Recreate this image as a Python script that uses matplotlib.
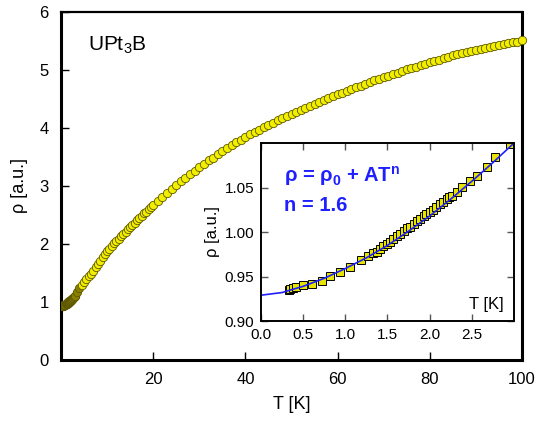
import matplotlib
matplotlib.use("Agg")
import matplotlib.pyplot as plt
from matplotlib.ticker import FormatStrFormatter

plt.rcParams["font.family"] = ["Liberation Sans", "DejaVu Sans"]
plt.rcParams["mathtext.fontset"] = "custom"
plt.rcParams["mathtext.rm"] = "Liberation Sans"
plt.rcParams["mathtext.bf"] = "Liberation Sans:bold"

# --- low-T data (also shown in the inset) ---
T_low = [0.33, 0.35, 0.38, 0.42, 0.50, 0.60, 0.72, 0.82, 0.94, 1.06, 1.19, 1.27,
         1.33, 1.37, 1.41, 1.45, 1.49, 1.53, 1.57, 1.61, 1.65, 1.69, 1.73, 1.77,
         1.81, 1.85, 1.89, 1.93, 1.96, 2.00, 2.04, 2.08, 2.12, 2.16, 2.20, 2.23,
         2.26, 2.32, 2.38, 2.48, 2.56, 2.68, 2.77, 2.95]
rho_low = [0.935, 0.936, 0.937, 0.938, 0.940, 0.942, 0.945, 0.951, 0.955, 0.961,
           0.968, 0.973, 0.976, 0.978, 0.981, 0.984, 0.987, 0.989, 0.992, 0.995,
           0.998, 1.001, 1.004, 1.006, 1.009, 1.012, 1.015, 1.018, 1.020, 1.023,
           1.025, 1.028, 1.031, 1.034, 1.037, 1.039, 1.041, 1.045, 1.051, 1.057,
           1.063, 1.073, 1.084, 1.099]

# --- 3 K to 20 K ---
T_mid = [3.0, 3.5, 4.0, 4.5, 5.0, 5.5, 6.0, 6.5, 7.0, 7.5, 8.0, 8.5, 9.0, 9.5,
         10.0, 10.5, 11.0, 11.5, 12.0, 12.5, 13.0, 13.5, 14.0, 14.5, 15.0, 15.5,
         16.0, 16.5, 17.0, 17.5, 18.0, 18.5, 19.0, 19.5]
rho_mid = [1.10, 1.17, 1.24, 1.29, 1.34, 1.39, 1.44, 1.49, 1.54, 1.60, 1.65, 1.71,
           1.77, 1.82, 1.88, 1.92, 1.97, 2.01, 2.05, 2.09, 2.13, 2.17, 2.21, 2.25,
           2.29, 2.33, 2.37, 2.41, 2.45, 2.49, 2.53, 2.56, 2.60, 2.63]

# --- 20 K to 100 K ---
T_high = list(range(20, 101))
rho_high = [2.67, 2.74, 2.81, 2.88, 2.95, 3.02, 3.08, 3.14, 3.20, 3.26,
            3.32, 3.38, 3.44, 3.49, 3.55, 3.60, 3.65, 3.70, 3.75, 3.80,
            3.84, 3.89, 3.93, 3.97, 4.01, 4.05, 4.09, 4.13, 4.17, 4.21,
            4.24, 4.28, 4.31, 4.35, 4.38, 4.42, 4.45, 4.49, 4.52, 4.55,
            4.58, 4.61, 4.64, 4.67, 4.70, 4.73, 4.76, 4.79, 4.82, 4.85,
            4.88, 4.90, 4.93, 4.95, 4.98, 5.01, 5.03, 5.06, 5.08, 5.11,
            5.13, 5.16, 5.18, 5.20, 5.22, 5.25, 5.27, 5.29, 5.31, 5.33,
            5.35, 5.36, 5.38, 5.40, 5.42, 5.43, 5.45, 5.46, 5.48, 5.49, 5.51]

# --- fit curve rho = rho0 + A T^n, n = 1.6 ---
T_fit = [0.0, 0.25, 0.5, 0.75, 1.0, 1.25, 1.5, 1.75, 2.0, 2.25, 2.5, 2.75, 3.0]
rho_fit = [0.929, 0.932, 0.939, 0.948, 0.959, 0.971, 0.985, 1.001, 1.018, 1.037,
           1.057, 1.078, 1.100]

yellow = "#f2ee00"
olive = "#5e5800"
dark_fill = "#8a8000"
blue = "#1f1fff"

fig = plt.figure(figsize=(5.41, 4.21), dpi=100)
ax = fig.add_axes([0.1128, 0.1449, 0.8521, 0.8266])

# dark points below ~4 K, yellow above
ax.plot(T_low + T_mid[:3], rho_low + rho_mid[:3], "o", ms=6, mfc=dark_fill,
        mec=olive, mew=0.6, zorder=3)
ax.plot(T_mid[3:], rho_mid[3:], "o", ms=6, mfc=yellow, mec=olive, mew=0.6, zorder=3)
ax.plot(T_high, rho_high, "o", ms=6, mfc=yellow, mec=olive, mew=0.6, zorder=3,
        clip_on=False)

ax.set_xlim(0, 100)
ax.set_ylim(0, 6)
ax.set_xticks([20, 40, 60, 80, 100])
ax.set_yticks([0, 1, 2, 3, 4, 5, 6])
ax.tick_params(direction="in", length=6, width=1, labelsize=12, pad=9)
for side in ["left", "bottom", "right"]:
    ax.spines[side].set_linewidth(2.2)
ax.spines["top"].set_linewidth(1.6)
ax.set_xlabel("T [K]", fontsize=13, labelpad=6)
ax.set_ylabel("ρ [a.u.]", fontsize=13, labelpad=8)
ax.text(0.058, 0.89, r"UPt$_\mathrm{3}$B", transform=ax.transAxes, fontsize=15)

# --- inset ---
ins = fig.add_axes([0.4824, 0.2375, 0.4677, 0.4228])
ins.set_zorder(5)
ins.plot(T_low, rho_low, "s", ms=5.5, mfc="#e6e400", mec="black", mew=0.7)
ins.plot(T_fit, rho_fit, "-", color=blue, lw=1.2)
ins.set_xlim(0, 3)
ins.set_ylim(0.9, 1.1)
ins.set_xticks([0.0, 0.5, 1.0, 1.5, 2.0, 2.5])
ins.set_yticks([0.90, 0.95, 1.00, 1.05])
ins.xaxis.set_major_formatter(FormatStrFormatter("%.1f"))
ins.yaxis.set_major_formatter(FormatStrFormatter("%.2f"))
ins.tick_params(direction="in", length=5, width=1, color="#555555", labelsize=11,
                pad=5, top=True, right=True)
for side in ins.spines.values():
    side.set_linewidth(1.4)
ins.set_ylabel("ρ [a.u.]", fontsize=12, labelpad=3)
ins.text(0.96, 0.05, "T [K]", transform=ins.transAxes, ha="right", va="bottom",
         fontsize=12)
ins.text(0.09, 0.78, r"ρ = ρ$_\mathbf{0}$ + AT$^\mathbf{n}$", transform=ins.transAxes,
         fontsize=14.5, fontweight="bold", color=blue)
ins.text(0.09, 0.62, "n = 1.6", transform=ins.transAxes, fontsize=14.5,
         fontweight="bold", color=blue)

fig.savefig("out.png", dpi=100)
